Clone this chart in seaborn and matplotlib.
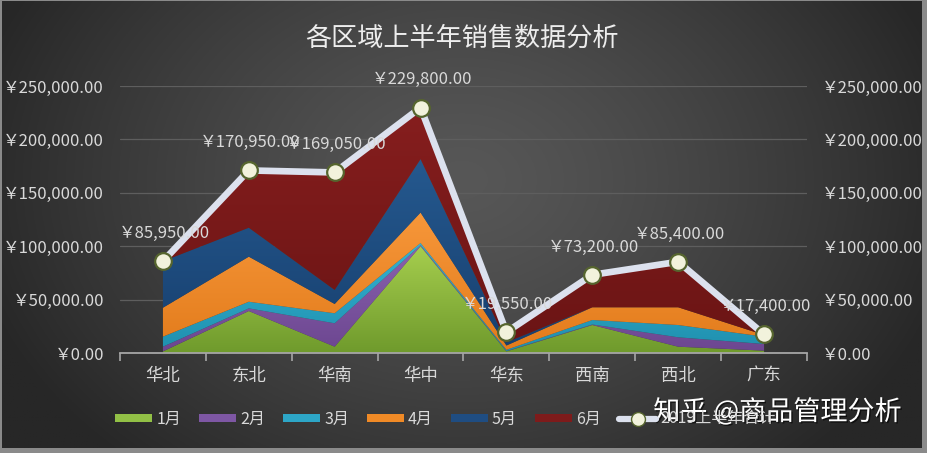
import numpy as np
import matplotlib
matplotlib.use("Agg")
import matplotlib.pyplot as plt
import matplotlib.patheffects as pe
import seaborn as sns
from matplotlib.patches import Patch
from matplotlib.lines import Line2D
from matplotlib.ticker import FuncFormatter
from matplotlib.colors import LinearSegmentedColormap, to_rgb

# Data
regions = ["华北", "东北", "华南", "华中", "华东", "西南", "西北", "广东"]
months = ["1月", "2月", "3月", "4月", "5月", "6月"]
jan = [1500, 39300, 5900, 100000, 1500, 26200, 5900, 2200]
feb = [4400, 2500, 21900, 1000, 300, 500, 8800, 6200]
mar = [9400, 6200, 9400, 2000, 1200, 4200, 11500, 6900]
apr = [27100, 42200, 8700, 28500, 4000, 11900, 16600, 1600]
may = [43550, 27100, 13100, 50000, 3000, 0, 0, 0]
jun = [0, 53650, 110050, 48300, 9550, 30400, 42600, 500]
totals = [85950, 170950, 169050, 229800, 19550, 73200, 85400, 17400]
total_label = "2019上半年合计"
title = "各区域上半年销售数据分析"
watermark = "知乎 @商品管理分析"

# colours (top of gradient, bottom of gradient)
top_colors = ["#A6CE4E", "#8A62AE", "#34B3D2", "#F7973A", "#25598F", "#861E1E"]
bot_colors = ["#6F9A2C", "#6C4690", "#1F8FAE", "#E27B1B", "#173F6E", "#6A1414"]
legend_colors = ["#92C046", "#7E57A4", "#2DA6C7", "#F08A26", "#1F4D82", "#7E1B1B"]
line_color = "#DCE1EE"
text_color = "#D9D9D9"

sns.set_theme(style="dark", rc={"axes.facecolor": "none", "figure.facecolor": "#8A8A8A"})
plt.rcParams["font.family"] = ["Noto Sans CJK SC", "DejaVu Sans"]

W, H = 928, 453
fig = plt.figure(figsize=(W / 100, H / 100), dpi=100)

# dark radial background
bg = fig.add_axes([2 / W, 5 / H, 920 / W, 447 / H], zorder=-5)
yy, xx = np.mgrid[0:1:300j, 0:1:600j]
d = np.sqrt(((xx - 0.5) / 0.55) ** 2 + ((yy - 0.4) / 0.85) ** 2)
d = np.clip(d, 0, 1) ** 1.3
c0 = np.array(to_rgb("#575757"))
c1 = np.array(to_rgb("#272727"))
img = c0[None, None, :] * (1 - d[..., None]) + c1[None, None, :] * d[..., None]
bg.imshow(img, aspect="auto", extent=[0, 1, 0, 1], origin="upper")
bg.set_axis_off()

ax = fig.add_axes([120 / W, 1 - 353 / H, 687 / W, 267 / H])
x = np.arange(len(regions))

# stacked areas with a vertical gradient inside each layer
series = [jan, feb, mar, apr, may, jun]
polys = ax.stackplot(x, *series, colors=legend_colors, linewidth=0, zorder=2)
cum = np.cumsum(np.array(series), axis=0)
for poly, ct, cb, tops in zip(polys, top_colors, bot_colors, cum):
    cmap = LinearSegmentedColormap.from_list("g", [cb, ct])
    grad = np.linspace(1, 0, 256).reshape(-1, 1)
    im = ax.imshow(grad, extent=[-0.5, 7.5, 0, max(tops.max(), 1)], origin="upper",
                   aspect="auto", cmap=cmap, zorder=2)
    im.set_clip_path(poly.get_paths()[0], transform=ax.transData)
    poly.set_alpha(0)

# total line
sns.lineplot(x=x, y=totals, ax=ax, color=line_color, linewidth=4.8, marker="o",
             markersize=12, markerfacecolor="#F2F2DC", markeredgecolor="#56652E",
             markeredgewidth=1.6, zorder=5, legend=False)

for i, v in enumerate(totals):
    ax.annotate(f"￥{v:,.2f}", (i, v), xytext=(1, 20), textcoords="offset points",
                ha="center", va="center", fontsize=12, color=text_color, zorder=6)

ax.set_xlim(-0.5, 7.5)
ax.set_ylim(0, 250000)
yticks = np.arange(0, 250001, 50000)
fmt = FuncFormatter(lambda v, p: f"￥{v:,.2f}")
ax.set_yticks(yticks)
ax.yaxis.set_major_formatter(fmt)
ax.set_xticks(x)
ax.set_xticklabels(regions)
ax.set_xticks(np.arange(-0.5, 8, 1), minor=True)
ax.tick_params(axis="x", which="major", length=0, pad=10, labelsize=12.5, labelcolor=text_color)
ax.tick_params(axis="x", which="minor", length=6, width=1.2, color="#A6A6A6", direction="out", bottom=True)
ax.tick_params(axis="y", length=0, pad=11.5, labelsize=12, labelcolor=text_color)
ax.yaxis.grid(True, color="#5E5E5E", linewidth=0.9)
ax.xaxis.grid(False)
for s in ["top", "left", "right"]:
    ax.spines[s].set_visible(False)
ax.spines["bottom"].set_color("#A6A6A6")
ax.spines["bottom"].set_linewidth(1.3)
ax.spines["bottom"].set_zorder(7)
ax.set_xlabel("")
ax.set_ylabel("")

ax2 = ax.twinx()
ax2.set_ylim(0, 250000)
ax2.set_yticks(yticks)
ax2.yaxis.set_major_formatter(fmt)
ax2.tick_params(axis="y", length=0, pad=11, labelsize=12, labelcolor=text_color)
ax2.grid(False)
for s in ax2.spines.values():
    s.set_visible(False)

# title
fig.text(0.498, 1 - 38 / H, title, ha="center", va="center", fontsize=18.8, color="#EDEDED")

# legend
handles = [Patch(facecolor=c, edgecolor="none") for c in legend_colors]
handles.append(Line2D([0], [0], color=line_color, lw=4.5, marker="o", markersize=10,
                      markerfacecolor="#F2F2DC", markeredgecolor="#56652E"))
fig.legend(handles, months + [total_label], loc="center", bbox_to_anchor=(0.48, 1 - 419 / H),
           ncol=7, frameon=False, fontsize=11.5, labelcolor=text_color, handlelength=2.3,
           handleheight=0.45, handletextpad=0.25, columnspacing=1.15)

# watermark
fig.text(0.838, 1 - 412 / H, watermark, ha="center", va="center", fontsize=19.5, color="white",
         path_effects=[pe.withSimplePatchShadow(offset=(1, -1), shadow_rgbFace="black", alpha=0.6)])

fig.savefig("out.png", dpi=100, facecolor=fig.get_facecolor())
